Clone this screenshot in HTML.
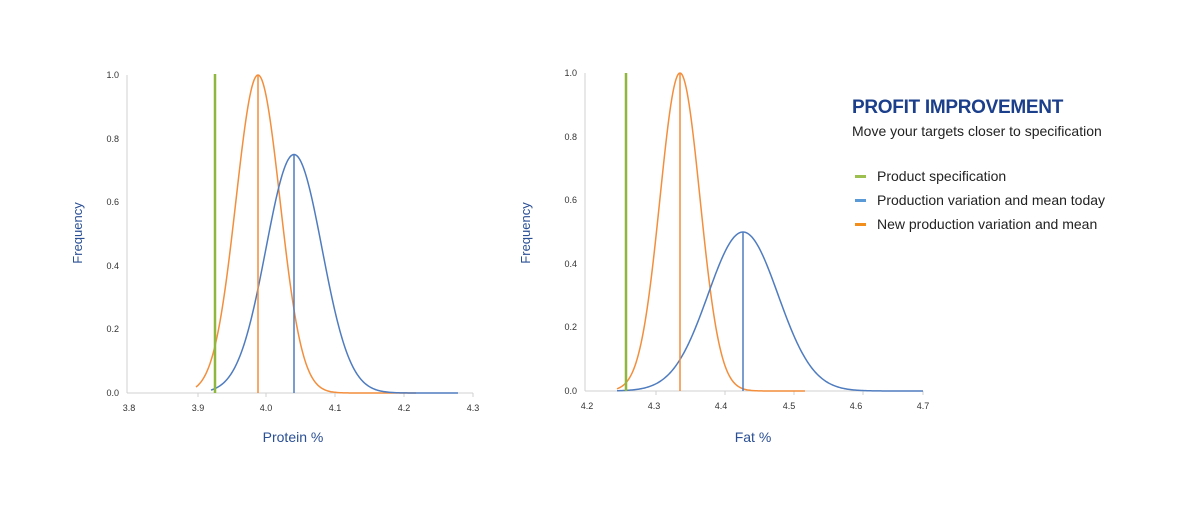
<!DOCTYPE html><html><head><style>
body{margin:0;background:#fff;width:1200px;height:500px;overflow:hidden;font-family:"Liberation Sans",sans-serif}
svg text{font-family:"Liberation Sans",sans-serif}
</style></head><body>
<svg id="s" width="1200" height="500" xmlns="http://www.w3.org/2000/svg">
<g font-size="9" fill="#333">
<line x1="127" y1="75" x2="127" y2="393" stroke="#d0d0d0"/>
<line x1="127" y1="393" x2="473" y2="393" stroke="#d0d0d0"/>
<g stroke="#d0d0d0"><line x1="198" y1="393" x2="198" y2="397"/><line x1="266" y1="393" x2="266" y2="397"/><line x1="335" y1="393" x2="335" y2="397"/><line x1="404" y1="393" x2="404" y2="397"/><line x1="473" y1="393" x2="473" y2="397"/>
<line x1="656" y1="391" x2="656" y2="395"/><line x1="725" y1="391" x2="725" y2="395"/><line x1="794" y1="391" x2="794" y2="395"/><line x1="863" y1="391" x2="863" y2="395"/><line x1="923" y1="391" x2="923" y2="395"/></g>
<g text-anchor="end"><text x="119" y="396">0.0</text><text x="119" y="332">0.2</text><text x="119" y="269">0.4</text><text x="119" y="205">0.6</text><text x="119" y="142">0.8</text><text x="119" y="78">1.0</text></g>
<g text-anchor="middle"><text x="129" y="411">3.8</text><text x="198" y="411">3.9</text><text x="266" y="411">4.0</text><text x="335" y="411">4.1</text><text x="404" y="411">4.2</text><text x="473" y="411">4.3</text></g>
<line x1="585" y1="73" x2="585" y2="391" stroke="#d0d0d0"/>
<line x1="585" y1="391" x2="923" y2="391" stroke="#d0d0d0"/>
<g text-anchor="end"><text x="577" y="394">0.0</text><text x="577" y="330">0.2</text><text x="577" y="267">0.4</text><text x="577" y="203">0.6</text><text x="577" y="140">0.8</text><text x="577" y="76">1.0</text></g>
<g text-anchor="middle"><text x="587" y="409">4.2</text><text x="654" y="409">4.3</text><text x="721" y="409">4.4</text><text x="789" y="409">4.5</text><text x="856" y="409">4.6</text><text x="923" y="409">4.7</text></g>
</g>
<g fill="#2a4f94" font-size="13">
<text transform="translate(82,233) rotate(-90)" text-anchor="middle">Frequency</text>
<text transform="translate(530,233) rotate(-90)" text-anchor="middle">Frequency</text>
<text x="293" y="442" text-anchor="middle" font-size="14">Protein %</text>
<text x="753" y="442" text-anchor="middle" font-size="14">Fat %</text>
</g>
<g id="curves" fill="none" stroke-width="1.5"></g>
<line x1="215" y1="74" x2="215" y2="393" stroke="#8fb73e" stroke-width="2.5"/>
<line x1="258" y1="75" x2="258" y2="393" stroke="#f28e3c" stroke-width="1.5"/>
<line x1="294" y1="155" x2="294" y2="393" stroke="#4f7cbf" stroke-width="1.5"/>
<line x1="626" y1="73" x2="626" y2="391" stroke="#8fb73e" stroke-width="2.5"/>
<line x1="680" y1="73" x2="680" y2="391" stroke="#f28e3c" stroke-width="1.5"/>
<line x1="743" y1="232" x2="743" y2="391" stroke="#4f7cbf" stroke-width="1.5"/>
<text x="852" y="113" font-size="19" fill="#1b3f8b" font-weight="bold" letter-spacing="-0.3">PROFIT IMPROVEMENT</text>
<text x="852" y="136" font-size="14" fill="#222">Move your targets closer to specification</text>
<rect x="855" y="175" width="11" height="3" fill="#9dbf4f"/>
<rect x="855" y="199" width="11" height="3" fill="#5a9ad6"/>
<rect x="855" y="223" width="11" height="3" fill="#f28e1c"/>
<g font-size="14" fill="#222"><text x="877" y="181">Product specification</text><text x="877" y="205">Production variation and mean today</text><text x="877" y="229">New production variation and mean</text></g>
</svg>
<script>
function c(mu,sig,pk,x0,x1,y0,h,col){var d="";for(var x=x0;x<=x1;x+=1){var y=y0-h*pk*Math.exp(-Math.pow(x-mu,2)/(2*sig*sig));d+=(d?"L":"M")+x+" "+y.toFixed(2);}
var p=document.createElementNS("http://www.w3.org/2000/svg","path");p.setAttribute("d",d);p.setAttribute("stroke",col);document.getElementById("curves").appendChild(p);}
c(258,22,1,196,416,393,318,"#f28e3c");
c(294,28,0.75,211,458,393,318,"#4f7cbf");
c(680,20,1,617,805,391,318,"#f28e3c");
c(743,35,0.5,617,923,391,318,"#4f7cbf");
</script>
</body></html>
